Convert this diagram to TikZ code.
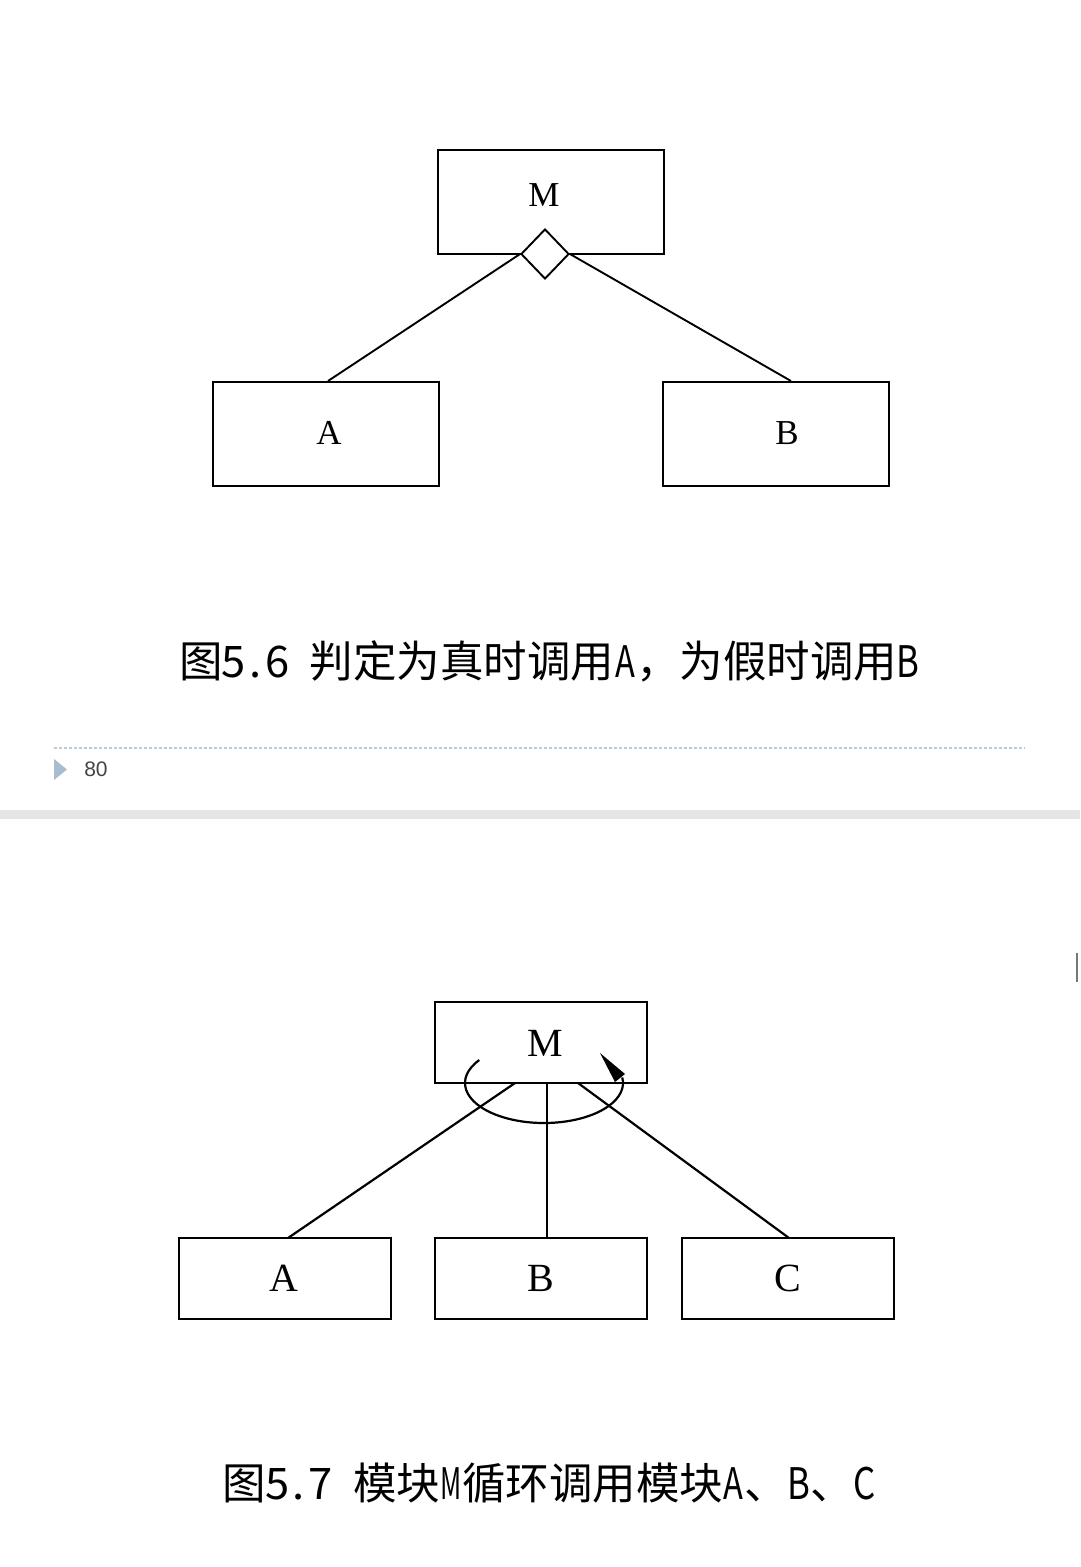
\documentclass[tikz,border=0pt]{standalone}
\usepackage{graphicx}
\usepackage{fontspec}
\setmainfont{Liberation Serif}
\newfontfamily\cjk{Noto Sans CJK SC}
\newfontfamily\uisans{Liberation Sans}
\usetikzlibrary{shapes.geometric}
\definecolor{dashblue}{HTML}{BCCBDA}
\definecolor{triblue}{HTML}{A9BDD1}
\definecolor{numgray}{HTML}{444444}
\definecolor{bandgray}{HTML}{E5E5E5}
\definecolor{markgray}{HTML}{777777}
\newcommand{\hw}[1]{\makebox[0.5em]{#1}}
\newcommand{\hwsq}[2]{\makebox[0.5em]{\scalebox{#1}[1]{#2}}}
\begin{document}
\begin{tikzpicture}[x=1pt,y=-1pt,
  boxa/.style={draw, line width=2pt, inner sep=0pt, minimum width=226pt, minimum height=104pt},
  boxb/.style={draw, line width=2.2pt, inner sep=0pt, minimum width=212pt, minimum height=81pt},
  lbla/.style={inner sep=0pt, font=\fontsize{35}{35}\selectfont},
  lblb/.style={inner sep=0pt, font=\fontsize{40}{40}\selectfont},
  conn/.style={line width=1.9pt},
  connb/.style={line width=2.2pt},
  captext/.style={inner sep=0pt, font=\cjk\fontsize{43.5}{43.5}\selectfont}]
\useasboundingbox (0,0) rectangle (1080,1567);
\fill[white] (0,0) rectangle (1080,1567);

% ---------- Figure 5.6 ----------
\node[boxa] (M1) at (551,202) {};
\node[lbla] (M1l) at (544,195) {M};
\node[boxa] (A1) at (326,433.5) {};
\node[lbla] (A1l) at (329,433) {A};
\node[boxa] (B1) at (776,433.5) {};
\node[lbla] (B1l) at (787,433) {B};
\coordinate (A1t) at (328,381);
\coordinate (B1t) at (791,381);
\node[draw, diamond, fill=white, line width=1.9pt, inner sep=0pt, minimum width=48pt, minimum height=50pt] (D) at (545,254) {};
\draw[conn] (D.west) -- (A1t);
\draw[conn] (D.east) -- (B1t);
\node[captext] (cap1) at (549,661) {图\hw{5}\hw{.}\hw{6}\hw{ }判定为真时调用\hwsq{0.75}{A}，为假时调用\hwsq{0.8}{B}};

% ---------- page separator ----------
\coordinate (dl) at (54,748);
\coordinate (dr) at (1025,748);
\draw[dashblue, line width=1.3pt, dash pattern=on 3pt off 2pt] (dl) -- (dr);
\fill[triblue] (54,759) -- (67,769.5) -- (54,780) -- cycle;
\node[inner sep=0pt, text=numgray, font=\uisans\fontsize{21}{21}\selectfont] (pg) at (96,769) {80};
\fill[bandgray] (0,810) rectangle (1080,819);
\draw[markgray, line width=2pt] (1077,953) -- (1077,982);

% ---------- Figure 5.7 ----------
\node[boxb] (M2) at (541,1042.5) {};
\node[lblb] (M2l) at (545,1043) {M};
\node[boxb] (A2) at (285,1278.5) {};
\node[lblb] (A2l) at (284,1278) {A};
\node[boxb] (B2) at (541,1278.5) {};
\node[lblb] (B2l) at (541,1278) {B};
\node[boxb] (C2) at (788,1278.5) {};
\node[lblb] (C2l) at (788,1278) {C};
\coordinate (mA) at (515,1083);
\coordinate (mB) at (547,1083);
\coordinate (mC) at (578,1083);
\coordinate (tA) at (288,1238);
\coordinate (tB) at (547,1238);
\coordinate (tC) at (789,1238);
\draw[connb] (mA) -- (tA);
\draw[connb] (mB) -- (tB);
\draw[connb] (mC) -- (tC);
\coordinate (lc) at (544,1083);
\draw[line width=2.2pt] ([shift={(145:79pt and 40pt)}]lc) arc[start angle=145, end angle=368, x radius=79pt, y radius=40pt];
\fill (600,1053) -- (625,1074) -- (615,1082) -- cycle;
\node[captext] (cap2) at (549,1483) {图\hw{5}\hw{.}\hw{7}\hw{ }模块\hwsq{0.6}{M}循环调用模块\hwsq{0.75}{A}、\hwsq{0.8}{B}、\hwsq{0.8}{C}};
\end{tikzpicture}
\end{document}
